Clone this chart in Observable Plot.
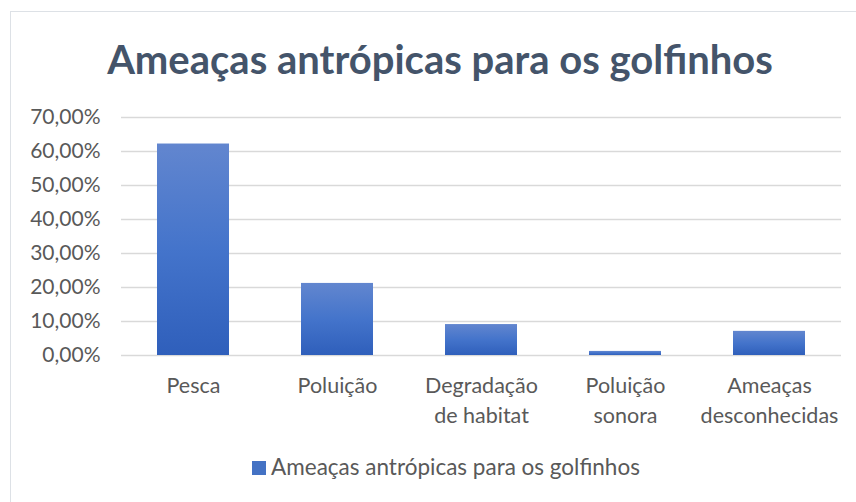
<!DOCTYPE html>
<html>
<head>
<meta charset="utf-8">
<script src="https://cdn.jsdelivr.net/npm/d3@7"></script>
<script src="https://cdn.jsdelivr.net/npm/@observablehq/plot@0.6"></script>
<style>
  html, body { margin: 0; padding: 0; background: #fff; }
  #wrap { position: relative; width: 856px; height: 502px; overflow: hidden; font-family: Lato, "Open Sans", sans-serif; }
  #border { position: absolute; left: 10px; top: 11px; width: 900px; height: 600px; border: 1.5px solid #dde1e6; box-sizing: border-box; }
  #title { position: absolute; left: 0; width: 880px; top: 35px; text-align: center; font-size: 40px; font-weight: bold; color: #44546a; white-space: nowrap; }
  #plot { position: absolute; left: 0; top: 100px; }
  #legend { position: absolute; left: 0; width: 892px; top: 453px; text-align: center; font-size: 22.5px; color: #595959; white-space: nowrap; }
  #legend .sw { display: inline-block; width: 14px; height: 14px; background: #4472c4; margin-right: 5px; vertical-align: 0px; }
</style>
</head>
<body>
<div id="wrap">
  <div id="border"></div>
  <div id="title"></div>
  <div id="plot"></div>
  <div id="legend"></div>
</div>
<script>
const title = "Ameaças antrópicas para os golfinhos";
const seriesName = "Ameaças antrópicas para os golfinhos";
const categories = ["Pesca", "Poluição", "Degradação de habitat", "Poluição sonora", "Ameaças desconhecidas"];
const tickLabels = ["Pesca", "Poluição", "Degradação\nde habitat", "Poluição\nsonora", "Ameaças\ndesconhecidas"];
const values = [62.2, 21.2, 9.1, 1.2, 7.1];
const yTicks = [0, 10, 20, 30, 40, 50, 60, 70];

const data = categories.map((c, i) => ({category: c, value: values[i]}));
const labelOf = new Map(categories.map((c, i) => [c, tickLabels[i]]));
const fmt = d => d.toFixed(2).replace(".", ",") + "%";

document.getElementById("title").textContent = title;
document.getElementById("legend").innerHTML = '<span class="sw"></span>' + seriesName;

const chart = Plot.plot({
  width: 856,
  height: 340,
  marginTop: 17,
  marginBottom: 85,
  marginLeft: 121,
  marginRight: 15,
  style: {fontFamily: "Lato, 'Open Sans', sans-serif", fontSize: "21px", color: "#595959", background: "transparent", overflow: "visible"},
  x: {domain: categories, paddingInner: 0.5, paddingOuter: 0.25, label: null},
  y: {domain: [0, 70], label: null},
  marks: [
    Plot.gridY(yTicks, {stroke: "#d9d9d9", strokeOpacity: 1, strokeWidth: 1.5}),
    Plot.barY(data, {x: "category", y: "value", fill: "url(#barGrad)"}),
    Plot.axisY(yTicks, {tickSize: 0, tickPadding: 21, tickFormat: fmt, label: null, fill: "#595959", fontSize: 21}),
    Plot.axisX({tickSize: 0, tickPadding: 16, tickFormat: d => labelOf.get(d), label: null, fill: "#595959", fontSize: 21.5, lineHeight: 1.4})
  ]
});

const ns = "http://www.w3.org/2000/svg";
const defs = document.createElementNS(ns, "defs");
defs.innerHTML = '<linearGradient id="barGrad" x1="0" y1="0" x2="0" y2="1">' +
  '<stop offset="0" stop-color="#6286cf"/><stop offset="0.5" stop-color="#4474cb"/><stop offset="1" stop-color="#2f5fbb"/></linearGradient>';
chart.insertBefore(defs, chart.firstChild);
document.getElementById("plot").appendChild(chart);
</script>
</body>
</html>
